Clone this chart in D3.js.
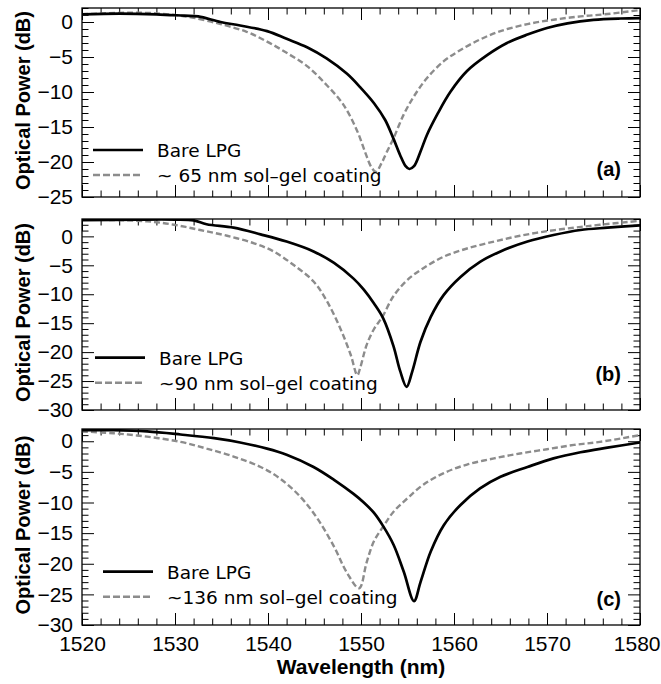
<!DOCTYPE html>
<html>
<head>
<meta charset="utf-8">
<script src="https://cdn.jsdelivr.net/npm/d3@7"></script>
<style>
  html, body { margin: 0; padding: 0; background: #fff; }
  svg { display: block; }
</style>
</head>
<body>
<svg id="chart" width="661" height="684"></svg>
<script>
// ---- Transmission spectra of the LPG, three coating thicknesses ----

const wavelengthTicks = [1520, 1530, 1540, 1550, 1560, 1570, 1580];
const panelTags = ["(a)", "(b)", "(c)"];
const bareLabel = "Bare LPG";
const coatingLabels = ["~ 65 nm sol\u2013gel coating", "~90 nm sol\u2013gel coating", "~136 nm sol\u2013gel coating"];
const powerRanges = [[-25, 2], [-30, 3], [-30, 2]];
const powerTicks = [
  [0, -5, -10, -15, -20, -25],
  [0, -5, -10, -15, -20, -25, -30],
  [0, -5, -10, -15, -20, -25, -30]
];

// panel (a): bare grating
const wlBareA = [1520, 1524, 1528, 1531, 1532.5, 1534.9, 1537, 1539.9, 1542, 1544.2, 1546.3, 1548.5, 1549.9, 1551.4, 1552.6, 1553.5, 1554.2, 1554.8, 1555.2, 1555.7, 1556.4, 1557.1, 1558.2, 1559.6, 1561.4, 1563.6, 1565.7, 1567.9, 1570, 1572.2, 1575, 1577.9, 1580];
const dbBareA = [1.1, 1.2, 1.1, 0.9, 0.8, 0.0, -0.5, -1.3, -2.4, -3.6, -5.2, -7.4, -9.3, -11.6, -14.0, -16.7, -19.0, -20.6, -21.0, -20.6, -18.5, -16.1, -13.2, -10.0, -7.0, -4.7, -3.0, -1.8, -0.86, -0.2, 0.3, 0.5, 0.55];
// panel (a): ~65 nm coating
const wlCoatA = [1520, 1524, 1527, 1530, 1532, 1534.9, 1537.7, 1539.9, 1542, 1544.2, 1546.3, 1548.1, 1549.6, 1550.5, 1551.1, 1551.6, 1552.2, 1552.8, 1553.5, 1554.6, 1555.7, 1557.1, 1558.9, 1560.7, 1562.8, 1565, 1567.9, 1570.7, 1573.6, 1576.5, 1580];
const dbCoatA = [1.1, 1.3, 1.3, 1.0, 0.6, -0.3, -1.4, -2.8, -4.4, -6.3, -9.0, -11.8, -15.6, -18.8, -20.7, -21.4, -20.2, -18.5, -16.6, -13.2, -10.6, -8.0, -5.6, -4.0, -2.5, -1.3, -0.3, 0.33, 0.8, 1.14, 1.7];

// panel (b): bare grating
const wlBareB = [1520, 1526, 1530, 1532, 1533.4, 1536.3, 1539.2, 1542, 1544.9, 1547.1, 1549.2, 1550.3, 1551.4, 1552.4, 1553.5, 1554.2, 1554.9, 1555.5, 1556.4, 1557.5, 1558.9, 1560.7, 1562.8, 1565, 1567.9, 1570.7, 1573.6, 1576.5, 1580];
const dbBareB = [2.8, 2.9, 2.9, 2.75, 2.1, 1.5, 0.35, -0.9, -2.6, -4.6, -7.3, -9.2, -11.6, -14.2, -19.0, -23.2, -26.0, -23.4, -18.2, -13.9, -10.1, -7.0, -4.4, -2.6, -0.9, 0.23, 1.1, 1.5, 1.9];
// panel (b): ~90 nm coating
const wlCoatB = [1520, 1527, 1529.9, 1532.7, 1535.6, 1538.5, 1540.6, 1542.8, 1544.9, 1546.3, 1547.8, 1548.9, 1549.6, 1549.9, 1550.6, 1551.4, 1552.3, 1553.5, 1555, 1556.7, 1558.9, 1561.4, 1564.3, 1567.1, 1570, 1572.9, 1575.7, 1580];
const dbCoatB = [2.9, 2.6, 2.0, 1.1, 0.1, -1.2, -2.6, -5.0, -7.8, -11.1, -16.0, -20.5, -24.0, -22.8, -18.8, -16.0, -13.9, -10.3, -7.5, -5.5, -3.5, -2.1, -0.9, 0.1, 0.9, 1.5, 2.0, 2.7];

// panel (c): bare grating
const wlBareC = [1520, 1523.4, 1527, 1530.6, 1534.2, 1537, 1539.9, 1542, 1544.9, 1547.1, 1549.2, 1550.3, 1551.4, 1552.4, 1553.5, 1554.6, 1555.7, 1556.4, 1557.5, 1558.9, 1560.7, 1562.8, 1565, 1567.9, 1570.7, 1573.6, 1576.5, 1580];
const dbBareC = [1.8, 1.8, 1.6, 1.1, 0.5, -0.2, -1.2, -2.2, -4.2, -6.3, -8.6, -10.0, -11.7, -13.9, -16.9, -21.3, -26.1, -23.0, -18.0, -13.7, -10.4, -7.7, -5.8, -4.2, -2.8, -1.8, -1.05, -0.2];
// panel (c): ~136 nm coating
const wlCoatC = [1520, 1523.4, 1527, 1530.6, 1533.4, 1536.3, 1539.2, 1541.3, 1543.5, 1545.3, 1547.1, 1548.5, 1549.8, 1550.6, 1551.4, 1552.4, 1553.5, 1555, 1556.7, 1558.9, 1561.4, 1564.3, 1567.1, 1570, 1572.9, 1575.7, 1580];
const dbCoatC = [1.6, 1.3, 0.75, -0.1, -1.2, -2.5, -4.2, -6.1, -9.1, -12.6, -17.2, -21.5, -24.0, -19.8, -16.3, -13.9, -11.5, -9.3, -7.1, -5.2, -3.8, -2.8, -2.0, -1.3, -0.6, -0.1, 1.0];

const series = [
  { bare: [wlBareA, dbBareA], coat: [wlCoatA, dbCoatA] },
  { bare: [wlBareB, dbBareB], coat: [wlCoatB, dbCoatB] },
  { bare: [wlBareC, dbBareC], coat: [wlCoatC, dbCoatC] }
];

// ---- layout ----
const plotLeft = 82, plotRight = 640;
const panelBoxes = [
  { top: 8,   bottom: 197, legendY: 150,   legendX: 93,  tagY: 176 },
  { top: 219, bottom: 410, legendY: 357.7, legendX: 95,  tagY: 381 },
  { top: 429, bottom: 625, legendY: 571.7, legendX: 103, tagY: 606 }
];
const tickFont = "'Liberation Sans', Arial, Helvetica, sans-serif";
const legendFont = "'DejaVu Sans', Verdana, sans-serif";
const grey = "#8c8c8c";

const svg = d3.select("#chart");
const x = d3.scaleLinear().domain([1520, 1580]).range([plotLeft, plotRight]);
const xMinor = d3.range(1520, 1581, 2).filter(v => v % 10 !== 0);

function styleAxis(g) {
  g.select(".domain").remove();
  g.selectAll(".tick line").attr("stroke", "#000").attr("stroke-width", 1);
  g.selectAll(".tick text")
    .attr("fill", "#000")
    .style("font-family", tickFont)
    .style("font-size", "21px");
}

panelBoxes.forEach((box, i) => {
  const y = d3.scaleLinear().domain(powerRanges[i]).range([box.bottom, box.top]);
  const yMinor = d3.range(powerRanges[i][0], powerRanges[i][1] + 1, 1).filter(v => v % 5 !== 0);
  const g = svg.append("g");

  const clipId = "clip" + i;
  svg.append("clipPath").attr("id", clipId)
    .append("rect")
    .attr("x", plotLeft).attr("y", box.top)
    .attr("width", plotRight - plotLeft).attr("height", box.bottom - box.top);

  // inward ticks on all four sides
  const isLast = i === panelBoxes.length - 1;
  const bottomAxis = g.append("g").attr("transform", `translate(0,${box.bottom})`)
    .call(d3.axisBottom(x).tickValues(wavelengthTicks).tickSize(-12).tickPadding(10.6)
      .tickFormat(isLast ? d3.format("d") : () => ""))
    .call(styleAxis);
  // keep the last wavelength label inside the page
  bottomAxis.selectAll(".tick text")
    .filter(d => d === wavelengthTicks[wavelengthTicks.length - 1])
    .attr("text-anchor", "end")
    .attr("x", 660 - plotRight);
  g.append("g").attr("transform", `translate(0,${box.bottom})`)
    .call(d3.axisBottom(x).tickValues(xMinor).tickSize(-6.5).tickFormat(() => ""))
    .call(styleAxis);
  g.append("g").attr("transform", `translate(0,${box.top})`)
    .call(d3.axisTop(x).tickValues(wavelengthTicks).tickSize(-12).tickFormat(() => ""))
    .call(styleAxis);
  g.append("g").attr("transform", `translate(0,${box.top})`)
    .call(d3.axisTop(x).tickValues(xMinor).tickSize(-6.5).tickFormat(() => ""))
    .call(styleAxis);

  g.append("g").attr("transform", `translate(${plotLeft},0)`)
    .call(d3.axisLeft(y).tickValues(powerTicks[i]).tickSize(-12).tickPadding(9).tickFormat(d3.format("d")))
    .call(styleAxis);
  g.append("g").attr("transform", `translate(${plotLeft},0)`)
    .call(d3.axisLeft(y).tickValues(yMinor).tickSize(-6.5).tickFormat(() => ""))
    .call(styleAxis);
  g.append("g").attr("transform", `translate(${plotRight},0)`)
    .call(d3.axisRight(y).tickValues(powerTicks[i]).tickSize(-12).tickFormat(() => ""))
    .call(styleAxis);
  g.append("g").attr("transform", `translate(${plotRight},0)`)
    .call(d3.axisRight(y).tickValues(yMinor).tickSize(-6.5).tickFormat(() => ""))
    .call(styleAxis);

  // spectra
  const line = d3.line()
    .x(d => x(d[0]))
    .y(d => y(d[1]))
    .curve(d3.curveCatmullRom.alpha(0.5));
  const pts = s => s[0].map((w, k) => [w, s[1][k]]);

  const curves = g.append("g").attr("clip-path", `url(#${clipId})`);
  curves.append("path")
    .datum(pts(series[i].coat))
    .attr("d", line)
    .attr("fill", "none")
    .attr("stroke", grey)
    .attr("stroke-width", 2.4)
    .attr("stroke-dasharray", "6,3");
  curves.append("path")
    .datum(pts(series[i].bare))
    .attr("d", line)
    .attr("fill", "none")
    .attr("stroke", "#000")
    .attr("stroke-width", 2.7)
    .attr("stroke-linejoin", "round");

  // frame
  g.append("rect")
    .attr("x", plotLeft).attr("y", box.top)
    .attr("width", plotRight - plotLeft).attr("height", box.bottom - box.top)
    .attr("fill", "none").attr("stroke", "#000").attr("stroke-width", 1.3);

  // legend
  const lg = g.append("g");
  lg.append("line")
    .attr("x1", box.legendX).attr("x2", box.legendX + 50)
    .attr("y1", box.legendY).attr("y2", box.legendY)
    .attr("stroke", "#000").attr("stroke-width", 2.7);
  lg.append("text")
    .attr("x", box.legendX + 64).attr("y", box.legendY + 7)
    .style("font-family", legendFont).style("font-size", "18.5px")
    .text(bareLabel);
  lg.append("line")
    .attr("x1", box.legendX).attr("x2", box.legendX + 50)
    .attr("y1", box.legendY + 25).attr("y2", box.legendY + 25)
    .attr("stroke", grey).attr("stroke-width", 2.4)
    .attr("stroke-dasharray", "7,3");
  lg.append("text")
    .attr("x", box.legendX + 64).attr("y", box.legendY + 32)
    .style("font-family", legendFont).style("font-size", "18.5px")
    .text(coatingLabels[i]);

  // panel tag
  g.append("text")
    .attr("x", 621).attr("y", box.tagY)
    .attr("text-anchor", "end")
    .style("font-family", tickFont).style("font-size", "20px").style("font-weight", "bold")
    .text(panelTags[i]);

  // y axis title
  g.append("text")
    .attr("transform", `translate(30,${(box.top + box.bottom) / 2 - 2}) rotate(-90)`)
    .attr("text-anchor", "middle")
    .style("font-family", tickFont).style("font-size", "20px").style("font-weight", "bold")
    .text("Optical Power (dB)");
});

// x axis title
svg.append("text")
  .attr("x", (plotLeft + plotRight) / 2)
  .attr("y", 674)
  .attr("text-anchor", "middle")
  .style("font-family", tickFont).style("font-size", "21px").style("font-weight", "bold")
  .text("Wavelength (nm)");
</script>
</body>
</html>
